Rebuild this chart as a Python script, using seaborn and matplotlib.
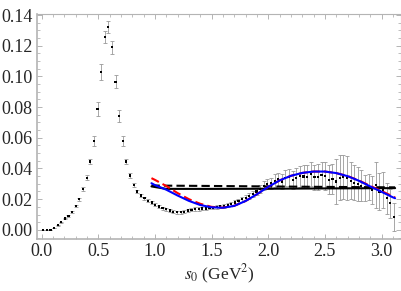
import numpy as np
import pandas as pd
import seaborn as sns
import matplotlib
matplotlib.use('Agg')
import matplotlib.pyplot as plt
from matplotlib.ticker import MultipleLocator, FormatStrFormatter

# measured points
s0 = [0.015, 0.047, 0.079, 0.111, 0.143, 0.175, 0.206, 0.238, 0.270, 0.302,
      0.334, 0.366, 0.398, 0.430, 0.462, 0.494, 0.525, 0.557, 0.589, 0.621,
      0.653, 0.685, 0.717, 0.749, 0.781, 0.813, 0.844, 0.876, 0.908, 0.940,
      0.972, 1.004, 1.036, 1.068, 1.100, 1.132, 1.163, 1.195, 1.227, 1.259,
      1.291, 1.323, 1.355, 1.387, 1.419, 1.451, 1.482, 1.514, 1.546, 1.578,
      1.610, 1.642, 1.674, 1.706, 1.738, 1.770, 1.801, 1.833, 1.865, 1.897,
      1.929, 1.961, 1.993, 2.025, 2.057, 2.089, 2.120, 2.152, 2.184, 2.216,
      2.248, 2.280, 2.312, 2.344, 2.376, 2.408, 2.439, 2.471, 2.503, 2.535,
      2.567, 2.599, 2.631, 2.663, 2.695, 2.727, 2.758, 2.790, 2.822, 2.854,
      2.886, 2.918, 2.950, 2.982, 3.014, 3.046, 3.077, 3.109]
rho = [0.0000, 0.0000, 0.0000, 0.0013, 0.0030, 0.0050, 0.0074, 0.0089, 0.0117, 0.0156,
       0.0200, 0.0265, 0.0340, 0.0445, 0.0580, 0.0788, 0.1030, 0.1255, 0.1324, 0.1190,
       0.0966, 0.0744, 0.0578, 0.0445, 0.0354, 0.0293, 0.0250, 0.0224, 0.0206, 0.0190,
       0.0178, 0.0163, 0.0152, 0.0141, 0.0135, 0.0126, 0.0119, 0.0115, 0.0115, 0.0119,
       0.0126, 0.0130, 0.0135, 0.0135, 0.0139, 0.0139, 0.0145, 0.0146, 0.0150, 0.0152,
       0.0156, 0.0160, 0.0167, 0.0178, 0.0189, 0.0200, 0.0210, 0.0221, 0.0234, 0.0250,
       0.0265, 0.0287, 0.0298, 0.0304, 0.0321, 0.0330, 0.0315, 0.0337, 0.0343, 0.0326,
       0.0337, 0.0350, 0.0348, 0.0346, 0.0363, 0.0343, 0.0347, 0.0358, 0.0352, 0.0326,
       0.0332, 0.0315, 0.0340, 0.0343, 0.0337, 0.0319, 0.0308, 0.0300, 0.0287, 0.0271,
       0.0282, 0.0260, 0.0293, 0.0250, 0.0260, 0.0206, 0.0174, 0.0085]
err = [0.0001, 0.0001, 0.0001, 0.0002, 0.0003, 0.0004, 0.0005, 0.0006, 0.0007, 0.0008,
       0.0010, 0.0012, 0.0015, 0.0018, 0.0033, 0.0045, 0.0054, 0.0040, 0.0040, 0.0043,
       0.0040, 0.0040, 0.0033, 0.0018, 0.0015, 0.0012, 0.0010, 0.0009, 0.0009, 0.0009,
       0.0009, 0.0009, 0.0009, 0.0009, 0.0010, 0.0010, 0.0010, 0.0010, 0.0010, 0.0010,
       0.0010, 0.0010, 0.0011, 0.0011, 0.0011, 0.0011, 0.0012, 0.0012, 0.0012, 0.0012,
       0.0013, 0.0013, 0.0014, 0.0014, 0.0015, 0.0016, 0.0018, 0.0020, 0.0022, 0.0025,
       0.0027, 0.0030, 0.0033, 0.0036, 0.0040, 0.0043, 0.0047, 0.0050, 0.0055, 0.0060,
       0.0064, 0.0068, 0.0072, 0.0075, 0.0078, 0.0082, 0.0085, 0.0087, 0.0090, 0.0095,
       0.0100, 0.0145, 0.0145, 0.0145, 0.0145, 0.0120, 0.0115, 0.0110, 0.0100, 0.0085,
       0.0085, 0.0090, 0.0150, 0.0120, 0.0120, 0.0100, 0.0095, 0.0090]

# fit curves
fit_s = [0.97, 1.0, 1.1, 1.2, 1.3, 1.4, 1.5, 1.6, 1.7, 1.8, 1.9, 2.0,
         2.1, 2.2, 2.3, 2.4, 2.5, 2.6, 2.7, 2.8, 2.9, 3.0, 3.1, 3.12]
fit_blue = [0.0304, 0.0292, 0.0262, 0.0224, 0.0189, 0.0162, 0.0147, 0.0144, 0.0156, 0.0188,
            0.0232, 0.0280, 0.0322, 0.0352, 0.0371, 0.0380, 0.0380, 0.0370, 0.0350, 0.0320,
            0.0283, 0.0248, 0.0212, 0.0206]
fit_red = [0.0337, 0.0326, 0.0286, 0.0240, 0.0200, 0.0170, 0.0150, 0.0145, 0.0157, 0.0188,
           0.0232, 0.0280, 0.0322, 0.0352, 0.0371, 0.0380, 0.0380, 0.0370, 0.0351, 0.0322,
           0.0287, 0.0253, 0.0218, 0.0211]
const_s = [0.97, 1.1, 1.5, 2.0, 2.5, 3.12]
const_solid = [0.0283, 0.0267, 0.0267, 0.0268, 0.0270, 0.0272]
const_dash = [0.0289, 0.0288, 0.0286, 0.0283, 0.0280, 0.0277]

sns.set_style('ticks')
plt.rcParams['font.family'] = ['Liberation Serif', 'DejaVu Serif']
plt.rcParams['mathtext.fontset'] = 'stix'

fig = plt.figure(figsize=(4.02, 2.91), dpi=100)
ax = fig.add_axes([0.092, 0.179, 0.905, 0.772])

ax.errorbar(s0, rho, yerr=err, fmt='none', ecolor='#999999', elinewidth=0.6,
            capsize=1.3, capthick=0.6, zorder=2)
sns.scatterplot(x=s0, y=rho, ax=ax, color='black', marker='s', s=2.4,
                edgecolor='none', zorder=3)

sns.lineplot(x=const_s, y=const_solid, ax=ax, color='black', lw=1.5,
             estimator=None, sort=False, zorder=4)
sns.lineplot(x=const_s, y=const_dash, ax=ax, color='black', lw=1.5,
             linestyle=(0, (4, 2)), estimator=None, sort=False, zorder=4)
sns.lineplot(x=fit_s, y=fit_red, ax=ax, color='#ff0000', lw=1.5,
             linestyle=(0, (4, 2)), estimator=None, sort=False, zorder=5)
sns.lineplot(x=fit_s, y=fit_blue, ax=ax, color='#0000ff', lw=1.5,
             estimator=None, sort=False, zorder=6)

ax.set_xlim(-0.040, 3.170)
ax.set_ylim(-0.0059, 0.1405)
ax.xaxis.set_major_locator(MultipleLocator(0.5))
ax.xaxis.set_minor_locator(MultipleLocator(0.1))
ax.yaxis.set_major_locator(MultipleLocator(0.02))
ax.yaxis.set_minor_locator(MultipleLocator(0.005))
ax.xaxis.set_major_formatter(FormatStrFormatter('%.1f'))
ax.yaxis.set_major_formatter(FormatStrFormatter('%.2f'))

for side in ['left', 'bottom', 'top', 'right']:
    ax.spines[side].set_color('#b4b4b4')
    ax.spines[side].set_linewidth(0.8)
ax.spines['left'].set_linewidth(1.2)
ax.spines['bottom'].set_linewidth(1.2)
ax.tick_params(which='both', direction='in', top=True, right=True,
               color='#b4b4b4', labelsize=13, pad=3)
ax.tick_params(which='major', length=3.5, width=0.7)
ax.tick_params(which='minor', length=2, width=0.6)

ax.set_xlabel(r'$s_0$ (GeV$^2$)', fontsize=12.5, labelpad=2)
ax.set_ylabel('')

fig.savefig('out.png', dpi=100)
